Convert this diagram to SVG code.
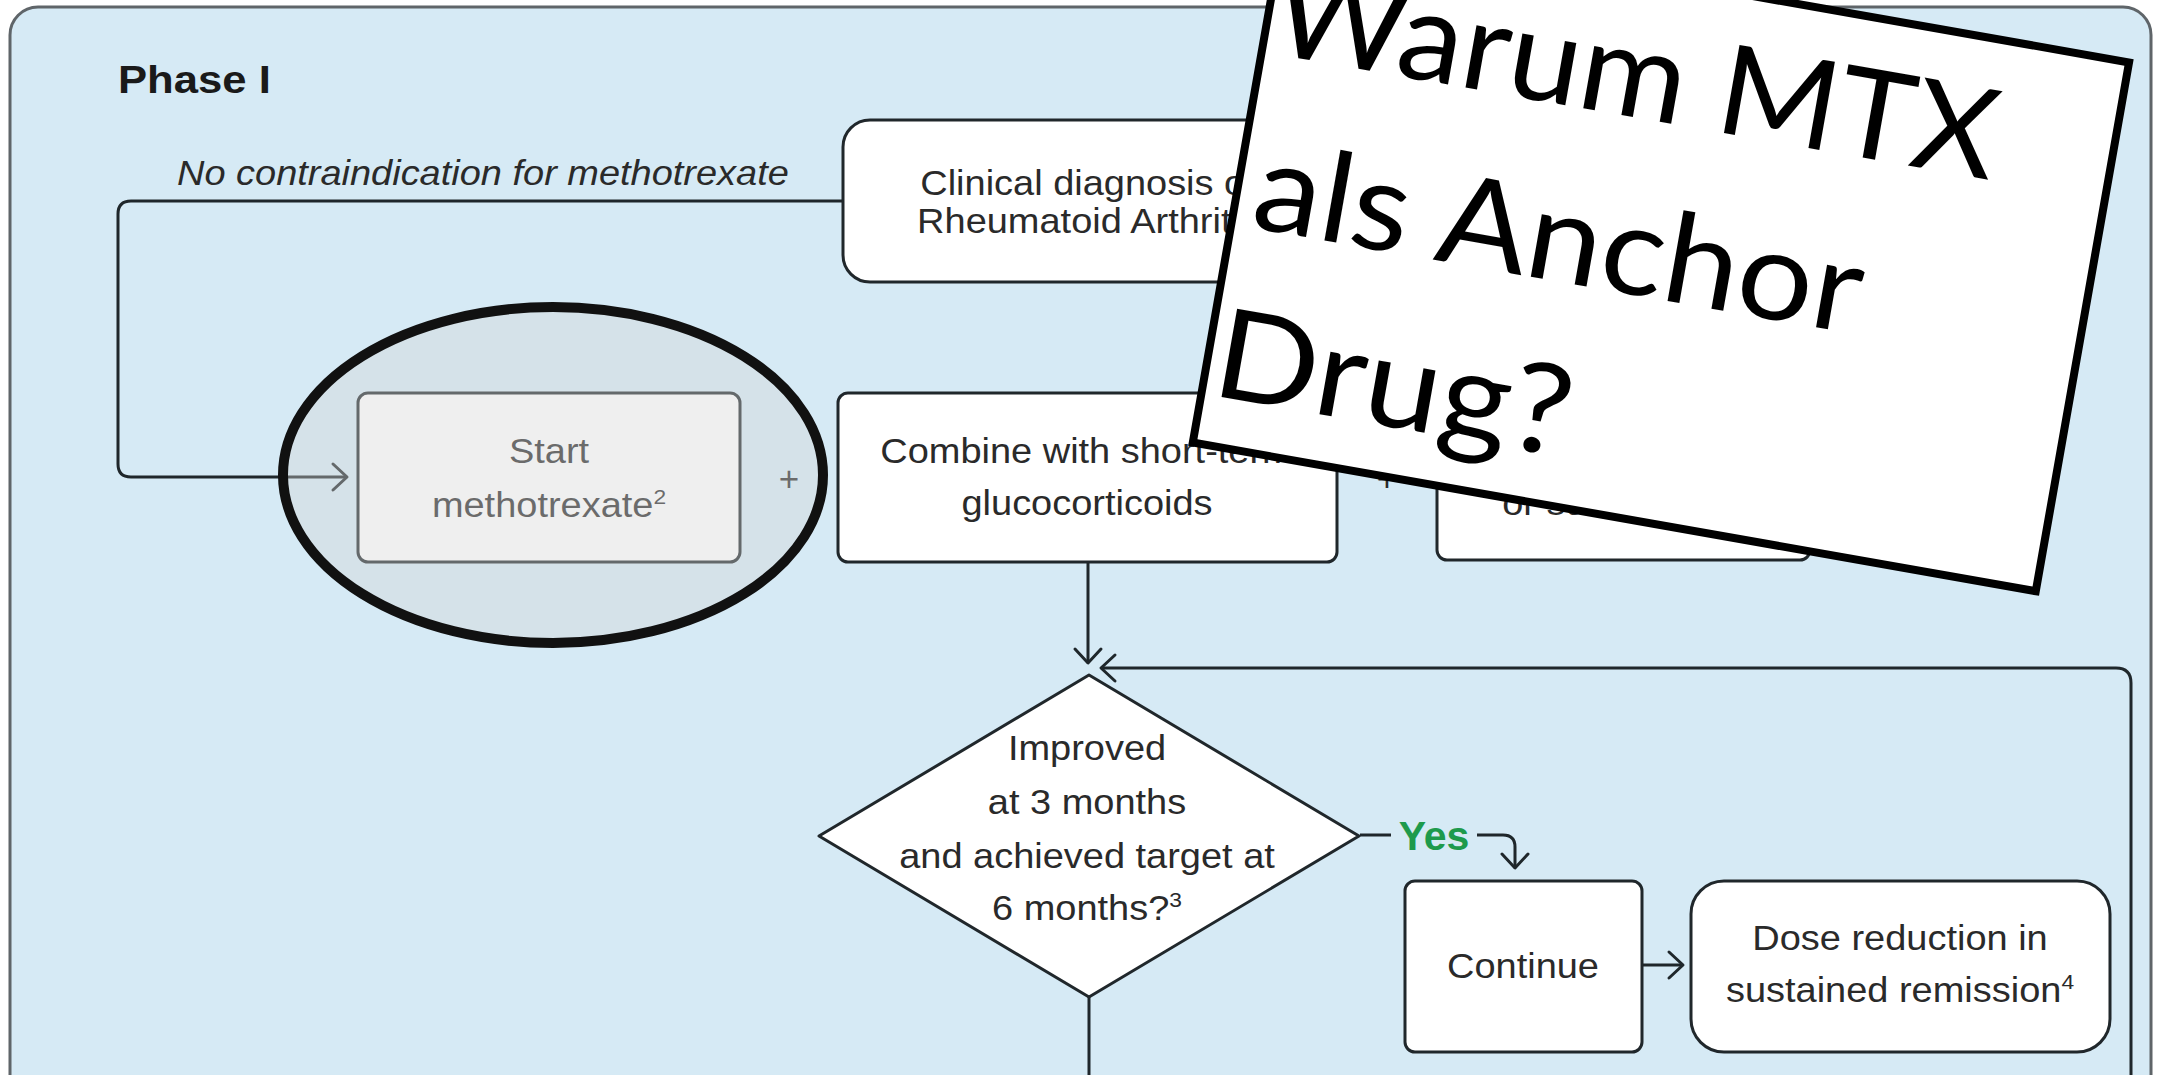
<svg xmlns="http://www.w3.org/2000/svg" width="2165" height="1075" viewBox="0 0 2165 1075">
  <style>
    .panel{fill:#d6eaf5;stroke:#5f6569;stroke-width:3}
    .box{fill:#ffffff;stroke:#20272b;stroke-width:3}
    .t{font-family:"Liberation Sans",Arial,Helvetica,sans-serif;font-size:35px;fill:#2a2a2a;text-anchor:middle}
    .sup{font-size:21px}
    .conn{fill:none;stroke:#1f272b;stroke-width:3;stroke-linejoin:round}
    .sign{font-family:Lato,"Open Sans","DejaVu Sans",sans-serif;font-size:125px;fill:#000000}
  </style>
  <defs>
    <marker id="arrow" markerUnits="userSpaceOnUse" markerWidth="40" markerHeight="40" viewBox="-20 -20 40 40" refX="0" refY="0" orient="auto" overflow="visible">
      <path d="M-14,-13 L0,0 L-14,13" fill="none" stroke="#1f272b" stroke-width="3" stroke-linecap="round" stroke-linejoin="round"/>
    </marker>
  </defs>

  <rect x="0" y="0" width="2165" height="1075" fill="#ffffff"/>
  <rect class="panel" x="10" y="7" width="2141" height="1200" rx="28"/>

  <text transform="translate(118 0) scale(1.12 1)" x="0" y="93" font-family="Liberation Sans,Arial,sans-serif" font-size="39" font-weight="bold" fill="#1a1a1a">Phase I</text>

  <!-- connectors -->
  <g id="connectors">
    <path class="conn" d="M843,201 H131 Q118,201 118,214 V464 Q118,477 131,477 H347" marker-end="url(#arrow)"/>
    <path class="conn" d="M1088,562 V663" marker-end="url(#arrow)"/>
    <path class="conn" d="M2131,1080 V683 Q2131,668 2116,668 H1101" marker-end="url(#arrow)"/>
    <path class="conn" d="M1360,835 H1391"/>
    <path class="conn" d="M1477,835 H1503 Q1515,835 1515,847 V868" marker-end="url(#arrow)"/>
    <path class="conn" d="M1642,965 H1683" marker-end="url(#arrow)"/>
    <path class="conn" d="M1089,997 V1080"/>
    <text class="t" transform="translate(177 0) scale(1.085 1)" x="0" y="185" style="text-anchor:start;font-style:italic">No contraindication for methotrexate</text>
    <text class="t" x="1434" y="850" style="font-size:41px;font-weight:bold;fill:#1e9a4c">Yes</text>
    <text class="t" x="789" y="491">+</text>
    <text class="t" x="1387" y="491">+</text>
  </g>

  <!-- nodes -->
  <g id="clinical">
    <rect class="box" x="843" y="120" width="490" height="162" rx="27"/>
    <g transform="translate(1088 0) scale(1.085 1)">
      <text class="t" x="0" y="195">Clinical diagnosis of</text>
      <text class="t" x="0" y="233">Rheumatoid Arthritis</text>
    </g>
  </g>

  <g id="start">
    <rect class="box" x="358" y="393" width="382" height="169" rx="10"/>
    <g transform="translate(549 0) scale(1.085 1)">
      <text class="t" x="0" y="463">Start</text>
      <text class="t" x="0" y="517">methotrexate<tspan class="sup" dy="-13">2</tspan></text>
    </g>
  </g>

  <g id="combine">
    <rect class="box" x="838" y="393" width="499" height="169" rx="10"/>
    <g transform="translate(1087 0) scale(1.085 1)">
      <text class="t" x="0" y="463">Combine with short-term</text>
      <text class="t" x="0" y="515">glucocorticoids</text>
    </g>
  </g>

  <g id="alternative">
    <rect class="box" x="1437" y="393" width="373" height="167" rx="10"/>
    <g transform="translate(1634 0) scale(1.085 1)">
      <text class="t" x="0" y="515">or sulfasalazine</text>
    </g>
  </g>

  <g id="decision">
    <polygon class="box" points="1089,675 1359,836 1089,997 819,836" stroke-linejoin="round"/>
    <g transform="translate(1087 0) scale(1.085 1)">
      <text class="t" x="0" y="760">Improved</text>
      <text class="t" x="0" y="814">at 3 months</text>
      <text class="t" x="0" y="868">and achieved target at</text>
      <text class="t" x="0" y="920">6 months?<tspan class="sup" dy="-13">3</tspan></text>
    </g>
  </g>

  <g id="continue">
    <rect class="box" x="1405" y="881" width="237" height="171" rx="10"/>
    <g transform="translate(1523 0) scale(1.085 1)">
      <text class="t" x="0" y="978">Continue</text>
    </g>
  </g>

  <g id="dose-reduction">
    <rect class="box" x="1691" y="881" width="419" height="171" rx="33"/>
    <g transform="translate(1900 0) scale(1.085 1)">
      <text class="t" x="0" y="950">Dose reduction in</text>
      <text class="t" x="0" y="1002">sustained remission<tspan class="sup" dy="-13">4</tspan></text>
    </g>
  </g>

  <!-- highlight ring around the first step -->
  <g id="highlight">
    <ellipse cx="553" cy="475" rx="270" ry="168" fill="#d5d5d5" fill-opacity="0.38" stroke="#111111" stroke-width="10"/>
  </g>

  <!-- tilted note card -->
  <g id="note" transform="translate(1661 252) rotate(10)">
    <rect x="-428" y="-268" width="856" height="537" fill="#ffffff" stroke="#000000" stroke-width="8"/>
    <text class="sign" x="-422" y="-128" textLength="733" lengthAdjust="spacingAndGlyphs">Warum MTX</text>
    <text class="sign" x="-410" y="47" textLength="615" lengthAdjust="spacingAndGlyphs">als Anchor</text>
    <text class="sign" x="-420" y="219" textLength="360" lengthAdjust="spacingAndGlyphs">Drug?</text>
  </g>
</svg>
